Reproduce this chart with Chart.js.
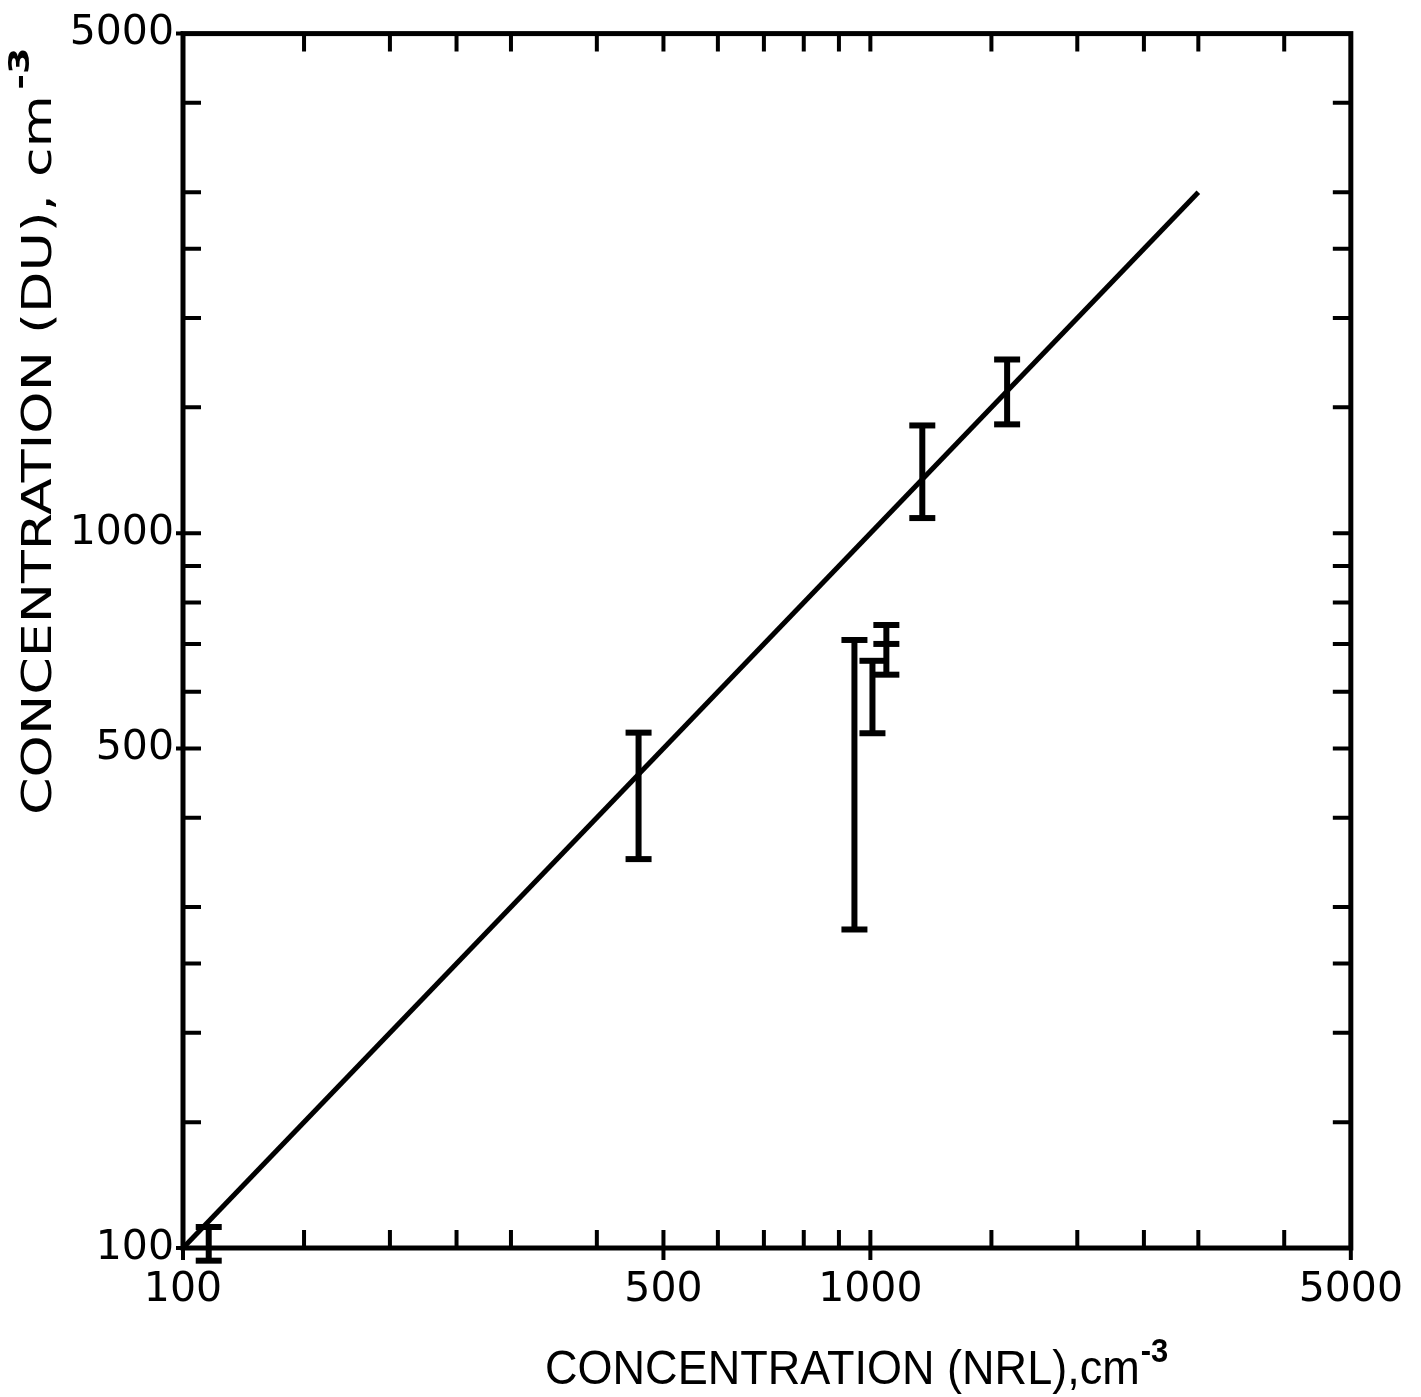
<!DOCTYPE html>
<html><head><meta charset="utf-8">
<script src="https://cdn.jsdelivr.net/npm/chart.js@4/dist/chart.umd.min.js"></script>
<style>html,body{margin:0;padding:0;background:#fff}canvas{display:block}</style>
</head><body>
<canvas id="c" width="1421" height="1397" style="width:1421px;height:1397px"></canvas>
<script>
// ---- data ----
const xTickLabels = [100, 500, 1000, 5000];
const yTickLabels = [100, 500, 1000, 5000];
const minorTicks = [150, 200, 250, 300, 400, 600, 700, 800, 900, 1500, 2000, 2500, 3000, 4000];
const fitX = [100, 3000];
const fitY = [100, 3000];
const ebX = [109, 460, 948, 1007, 1055, 1190, 1581];
const ebLow = [96, 350, 279, 525, 634, 1050, 1420];
const ebHigh = [107, 526, 709, 663, 744, 1415, 1750];
const extraCapX = [1055];
const extraCapY = [700];
const xTitle = 'CONCENTRATION (NRL),cm';
const yTitle = 'CONCENTRATION (DU), cm';
const titleSup = '-3';

// ---- derived datasets ----
const barPts = [];
ebX.forEach((x, i) => { barPts.push({x, y: ebLow[i]}, {x, y: ebHigh[i]}, {x, y: null}); });
const capPts = [];
ebX.forEach((x, i) => { capPts.push({x, y: ebLow[i]}, {x, y: ebHigh[i]}); });
extraCapX.forEach((x, i) => capPts.push({x, y: extraCapY[i]}));
const fitPts = fitX.map((x, i) => ({x, y: fitY[i]}));

const frameTicks = {
  id: 'frameTicks',
  afterDatasetsDraw(chart) {
    const {ctx, chartArea: a, scales: {x, y}} = chart;
    ctx.save();
    ctx.strokeStyle = '#000';
    ctx.lineCap = 'butt';
    ctx.lineWidth = 5;
    ctx.strokeRect(a.left, a.top, a.right - a.left, a.bottom - a.top);
    ctx.lineWidth = 4;
    const inLen = 18, outLen = 12;
    const all = minorTicks.concat(xTickLabels);
    ctx.beginPath();
    all.forEach(v => {
      const px = x.getPixelForValue(v);
      if (px > a.left + 2 && px < a.right - 2) {
        ctx.moveTo(px, a.bottom); ctx.lineTo(px, a.bottom - inLen);
        ctx.moveTo(px, a.top); ctx.lineTo(px, a.top + inLen);
      }
      const py = y.getPixelForValue(v);
      if (py > a.top + 2 && py < a.bottom - 2) {
        ctx.moveTo(a.left, py); ctx.lineTo(a.left + inLen, py);
        ctx.moveTo(a.right, py); ctx.lineTo(a.right - inLen, py);
      }
    });
    xTickLabels.forEach(v => {
      const px = x.getPixelForValue(v);
      ctx.moveTo(px, a.bottom); ctx.lineTo(px, a.bottom + outLen);
    });
    yTickLabels.forEach(v => {
      const py = y.getPixelForValue(v);
      ctx.moveTo(a.left, py); ctx.lineTo(a.left - 7, py);
    });
    ctx.stroke();

    // titles
    ctx.fillStyle = '#000';
    ctx.textAlign = 'left';
    ctx.textBaseline = 'alphabetic';
    let fs = 44;
    ctx.font = fs + 'px "Liberation Sans"';
    fs = fs * 595 / ctx.measureText(xTitle).width;
    ctx.font = fs + 'px "Liberation Sans"';
    ctx.save();
    ctx.translate(545, 1384);
    ctx.scale(1, 1.08);
    ctx.fillText(xTitle, 0, 0);
    const xe = ctx.measureText(xTitle).width;
    ctx.font = 'bold ' + Math.round(fs * 0.68) + 'px "Liberation Sans"';
    ctx.fillText(titleSup, xe + 1, -20);
    ctx.restore();

    const fy = 41;
    ctx.font = fy + 'px "DejaVu Sans"';
    const yw = ctx.measureText(yTitle).width;
    ctx.save();
    ctx.translate(51, 815);
    ctx.rotate(-Math.PI / 2);
    ctx.scale(720 / yw, 1);
    ctx.fillText(yTitle, 0, 0);
    ctx.font = 'bold ' + Math.round(fy * 0.7) + 'px "DejaVu Sans"';
    ctx.fillText(titleSup, yw + 4, -22);
    ctx.restore();
    ctx.restore();
  }
};

new Chart(document.getElementById('c'), {
  type: 'scatter',
  data: {
    datasets: [
      {data: fitPts, showLine: true, borderColor: '#000', borderWidth: 5, pointRadius: 0, clip: false},
      {data: barPts, showLine: true, spanGaps: false, borderColor: '#000', borderWidth: 6, pointRadius: 0, clip: false},
      {data: capPts, showLine: false, pointStyle: 'line', pointRadius: 13, borderColor: '#000', borderWidth: 6, clip: false}
    ]
  },
  options: {
    responsive: false,
    animation: false,
    devicePixelRatio: 1,
    layout: {padding: {left: 0, top: 14, right: 66, bottom: 0}},
    plugins: {legend: {display: false}, tooltip: {enabled: false}},
    scales: {
      x: {
        type: 'logarithmic', min: 100, max: 5000,
        grid: {display: false, drawTicks: false}, border: {display: false},
        afterBuildTicks: s => { s.ticks = xTickLabels.map(v => ({value: v})); },
        afterFit: s => { s.height = 149; },
        ticks: {color: '#000', font: {family: 'DejaVu Sans', size: 41}, padding: 18, maxRotation: 0, autoSkip: false, callback: v => String(v)}
      },
      y: {
        type: 'logarithmic', min: 100, max: 5000,
        grid: {display: false, drawTicks: false}, border: {display: false},
        afterBuildTicks: s => { s.ticks = yTickLabels.map(v => ({value: v})); },
        afterFit: s => { s.width = 183; },
        ticks: {color: '#000', font: {family: 'DejaVu Sans', size: 41}, padding: 9, autoSkip: false, callback: v => String(v)}
      }
    }
  },
  plugins: [frameTicks]
});
</script>
</body></html>
